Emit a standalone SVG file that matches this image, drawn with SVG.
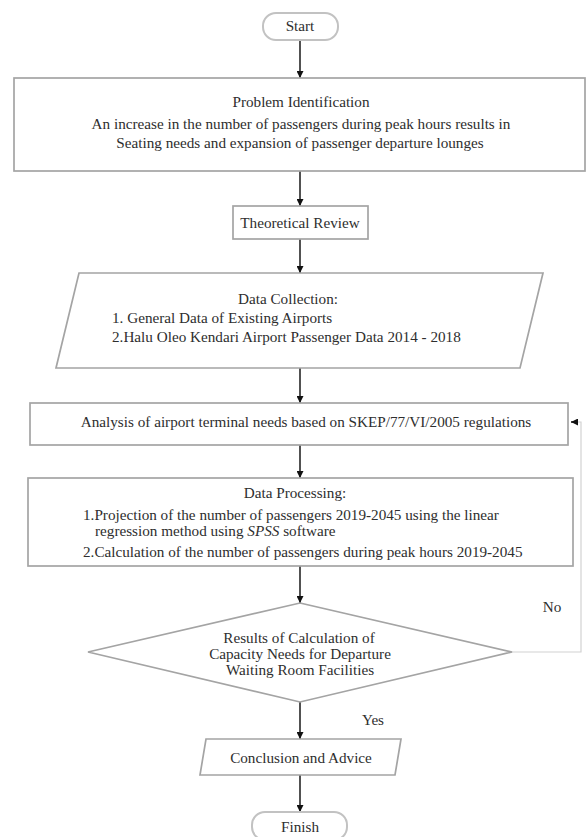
<svg xmlns="http://www.w3.org/2000/svg" width="587" height="837" viewBox="0 0 587 837">
<style>
text{font-family:"Liberation Serif","Times New Roman",serif;font-size:15.2px;fill:#2e2e2e}
.c{text-anchor:middle}
.box{fill:#fff;stroke:#a4a4a4;stroke-width:1.7}
.pill{fill:#fff;stroke:#c2c2c2;stroke-width:2}
.ln{fill:none;stroke:#333;stroke-width:1.7}
.fb{fill:none;stroke:#d2d2d2;stroke-width:1.2}
</style>
<defs>
<marker id="ah" viewBox="0 0 10 10" refX="10" refY="5" markerWidth="7" markerHeight="7" markerUnits="userSpaceOnUse" orient="auto">
<path d="M0,0 L10,5 L0,10 z" fill="#111"/>
</marker>
</defs>
<rect width="587" height="837" fill="#fff"/>
<g id="connectors">
<line class="ln" x1="300" y1="40" x2="300" y2="78" marker-end="url(#ah)"/>
<line class="ln" x1="300" y1="171" x2="300" y2="206" marker-end="url(#ah)"/>
<line class="ln" x1="300" y1="239" x2="300" y2="273" marker-end="url(#ah)"/>
<line class="ln" x1="300" y1="368" x2="300" y2="403" marker-end="url(#ah)"/>
<line class="ln" x1="300" y1="445" x2="300" y2="478" marker-end="url(#ah)"/>
<line class="ln" x1="300" y1="566" x2="300" y2="603" marker-end="url(#ah)"/>
<line class="ln" x1="300" y1="702" x2="300" y2="739" marker-end="url(#ah)"/>
<line class="ln" x1="300" y1="775" x2="300" y2="812" marker-end="url(#ah)"/>
<polyline class="fb" points="512,652 581,652 581,422 577,422"/>
<line class="ln" x1="578" y1="422" x2="571" y2="422" marker-end="url(#ah)" stroke-width="1"/>
<text x="552" y="612" class="c">No</text>
<text x="373" y="725" class="c">Yes</text>
</g>
<g id="start">
<rect class="pill" x="263" y="13" width="75" height="27" rx="13"/>
<text x="300" y="31" class="c">Start</text>
</g>
<g id="problem">
<rect class="box" x="14" y="78" width="571" height="93"/>
<text x="301" y="107" class="c">Problem Identification</text>
<text x="301" y="129" class="c">An increase in the number of passengers during peak hours results in</text>
<text x="300" y="148" class="c">Seating needs and expansion of passenger departure lounges</text>
</g>
<g id="theory">
<rect class="box" x="233" y="206" width="135" height="33"/>
<text x="300" y="228" class="c">Theoretical Review</text>
</g>
<g id="collection">
<polygon class="box" points="79,273 543,273 520,368 56,368"/>
<text x="288" y="304" class="c">Data Collection:</text>
<text x="112" y="323">1. General Data of Existing Airports</text>
<text x="112" y="342">2.Halu Oleo Kendari Airport Passenger Data 2014 - 2018</text>
</g>
<g id="analysis">
<rect class="box" x="30" y="403" width="538" height="42"/>
<text x="306" y="427" class="c">Analysis of airport terminal needs based on SKEP/77/VI/2005 regulations</text>
</g>
<g id="processing">
<rect class="box" x="28" y="478" width="545" height="88"/>
<text x="295" y="498" class="c">Data Processing:</text>
<text x="83" y="520">1.Projection of the number of passengers 2019-2045 using the linear</text>
<text x="95" y="536">regression method using <tspan font-style="italic">SPSS</tspan> software</text>
<text x="83" y="557">2.Calculation of the number of passengers during peak hours 2019-2045</text>
</g>
<g id="decision">
<polygon class="box" points="300,603 512,652 300,702 88,652"/>
<text x="299" y="643" class="c">Results of Calculation of</text>
<text x="300" y="659" class="c">Capacity Needs for Departure</text>
<text x="300" y="675" class="c">Waiting Room Facilities</text>
</g>
<g id="conclusion">
<polygon class="box" points="206,739 401,739 395,775 200,775"/>
<text x="301" y="763" class="c">Conclusion and Advice</text>
</g>
<g id="finish">
<rect class="pill" x="252" y="812" width="95" height="28" rx="13"/>
<text x="300" y="832" class="c">Finish</text>
</g>
</svg>
